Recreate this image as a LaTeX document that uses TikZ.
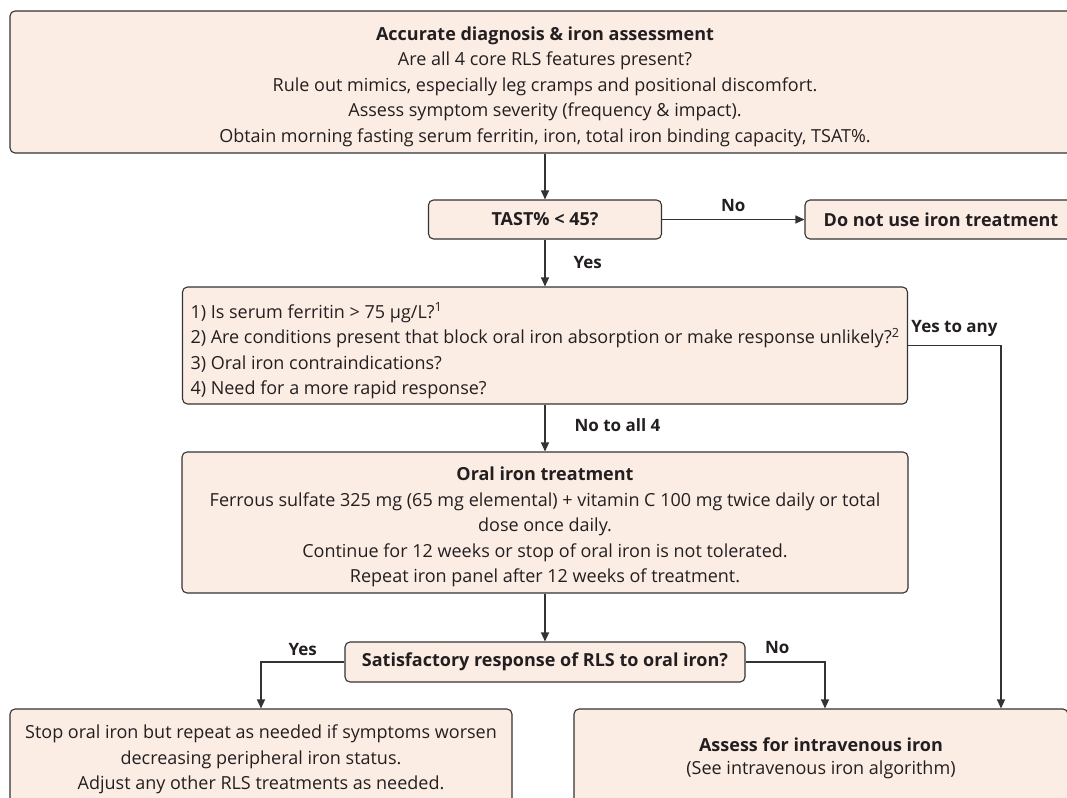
\documentclass[tikz,border=0pt]{standalone}
\usepackage{fontspec}
\setmainfont{Open Sans}
\usetikzlibrary{arrows.meta}
\definecolor{boxfill}{HTML}{FCEDE4}
\definecolor{boxline}{HTML}{333333}
\definecolor{ink}{HTML}{231F20}
\newcommand{\padtop}[1]{\rule{0pt}{#1}}
\begin{document}
\begin{tikzpicture}[x=1pt,y=1pt,>={Triangle[length=9pt,width=8pt]},line width=1.1pt]
	\tikzstyle{flow} = [text=ink,font=\fontsize{18}{25.5}\selectfont,align=center,inner sep=0pt]
	\tikzstyle{box} = [draw=boxline,fill=boxfill,rectangle,rounded corners=5pt,flow]
	\tikzstyle{answer} = [text=ink,font=\bfseries\fontsize{17}{20}\selectfont,inner sep=3pt]
	\tikzstyle{link} = [draw=boxline,->]
	\useasboundingbox (0,0) rectangle (1067,-797);
	\clip (0,0) rectangle (1067,-797);
	\node (accurate) [box,minimum width=1070pt,minimum height=142pt] at (545,-82) {\padtop{23pt}\textbf{Accurate diagnosis \& iron assessment}\\Are all 4 core RLS features present?\\Rule out mimics, especially leg cramps and positional discomfort.\\Assess symptom severity (frequency \& impact).\\Obtain morning fasting serum ferritin, iron, total iron binding capacity, TSAT\%.};
	\node (tast) [box,below of=accurate,node distance=137.5pt,minimum width=233pt,minimum height=39pt] {\textbf{TAST\% < 45?}};
	\node (donot) [box,right of=tast,node distance=396pt,minimum width=272pt,minimum height=39pt] {\textbf{Do not use iron treatment}};
	\node (questions) [box,below of=tast,node distance=126pt,minimum width=725pt,minimum height=117pt,align=left] {\padtop{26pt}1) Is serum ferritin > 75 µg/L?\textsuperscript{1}\\2) Are conditions present that block oral iron absorption or make response unlikely?\textsuperscript{2}\\3) Oral iron contraindications?\\4) Need for a more rapid response?};
	\node (oral) [box,below of=questions,node distance=177pt,minimum width=726pt,minimum height=141pt] {\padtop{23pt}\textbf{Oral iron treatment}\\Ferrous sulfate 325 mg (65 mg elemental) + vitamin C 100 mg twice daily or total\\dose once daily.\\Continue for 12 weeks or stop of oral iron is not tolerated.\\Repeat iron panel after 12 weeks of treatment.};
	\node (satisf) [box,below of=oral,node distance=139.5pt,minimum width=400pt,minimum height=40pt] {\textbf{Satisfactory response of RLS to oral iron?}};
	\node (stop) [box,minimum width=502pt,minimum height=98pt] at (261,-758) {\padtop{17pt}Stop oral iron but repeat as needed if symptoms worsen\\decreasing peripheral iron status.\\Adjust any other RLS treatments as needed.};
	\node (assess) [box,font=\fontsize{18}{23}\selectfont,minimum width=494pt,minimum height=98pt] at (821,-758) {\textbf{Assess for intravenous iron}\\(See intravenous iron algorithm)};

	\draw[link] (accurate) -- (tast);
	\draw[link] (tast) -- node[answer,above=4pt] {No} (donot);
	\draw[link] (tast) -- node[answer,right=25pt] {Yes} (questions);
	\draw[link] (questions.east) -| node[answer,pos=0.25,above=5pt] {Yes to any} ([xshift=180pt]assess.north);
	\draw[link] (questions) -- node[answer,right=26pt,yshift=3pt] {No to all 4} (oral);
	\draw[link] (oral) -- (satisf);
	\draw[link] (satisf.west) -| node[answer,pos=0.25,above=3pt] {Yes} (stop.north);
	\draw[link] (satisf.east) -| node[answer,pos=0.2,above=5pt] {No} ([xshift=4pt]assess.north);
\end{tikzpicture}
\end{document}
